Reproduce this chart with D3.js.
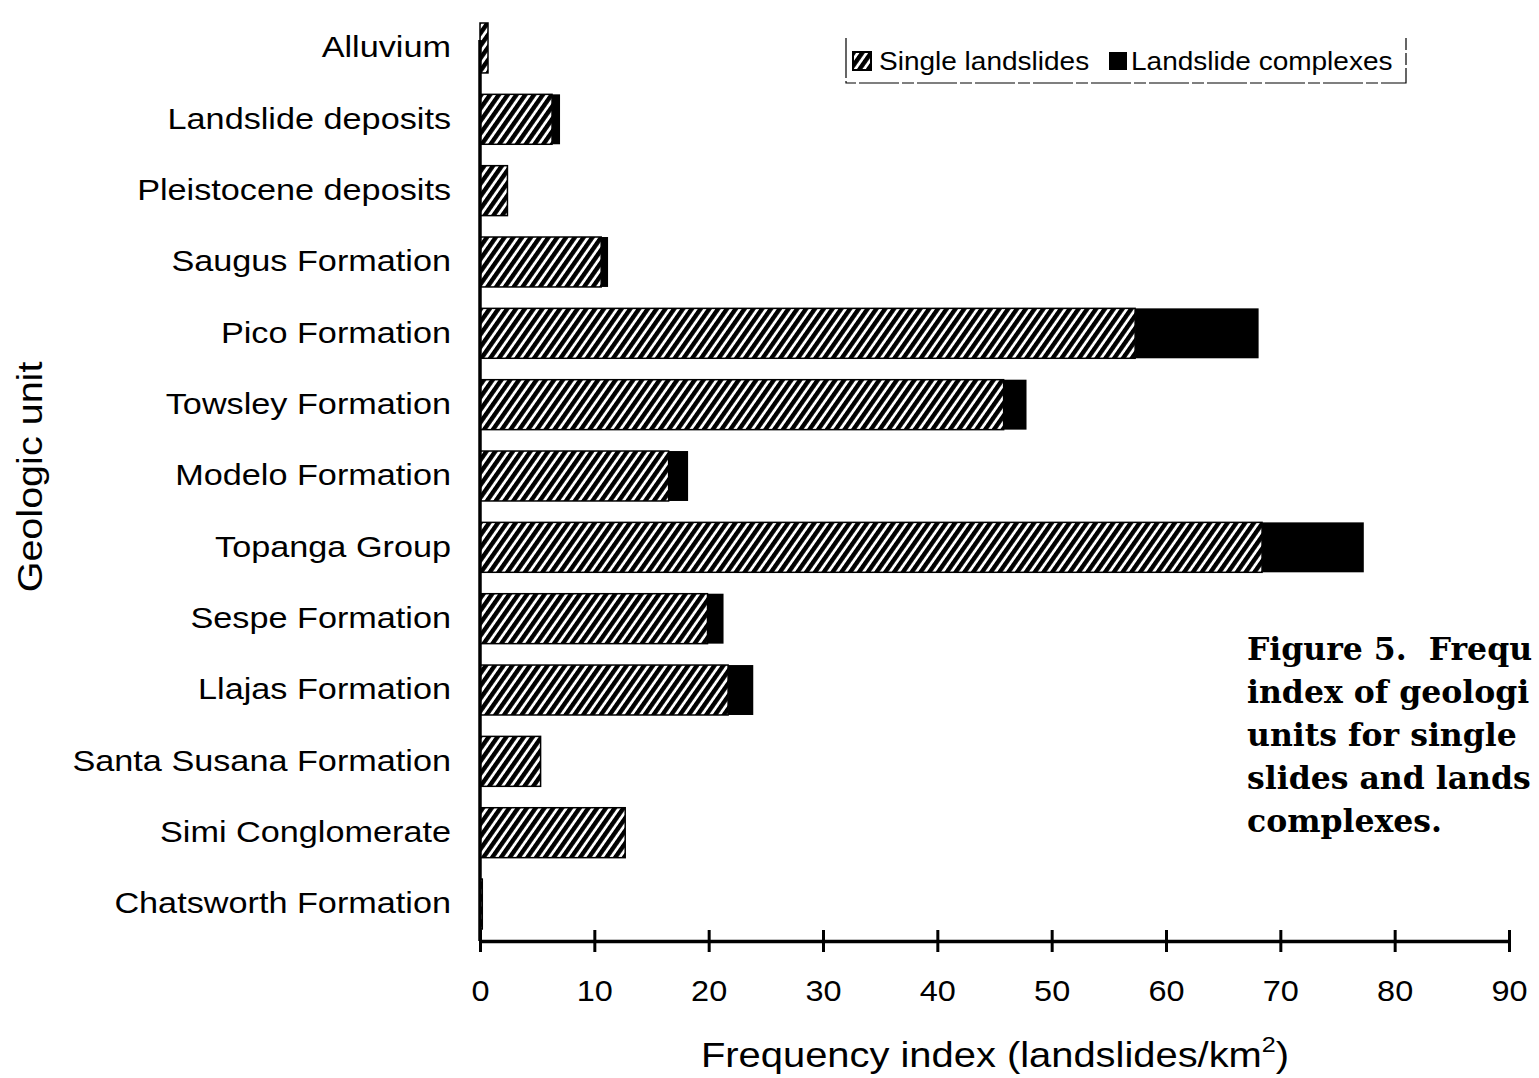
<!DOCTYPE html>
<html><head><meta charset="utf-8">
<script src="https://cdn.jsdelivr.net/npm/d3@7"></script>
<style>html,body{margin:0;padding:0;background:#fff;}svg{display:block;}</style>
</head><body>
<script>
const categories = ["Alluvium","Landslide deposits","Pleistocene deposits","Saugus Formation","Pico Formation","Towsley Formation","Modelo Formation","Topanga Group","Sespe Formation","Llajas Formation","Santa Susana Formation","Simi Conglomerate","Chatsworth Formation"];
const singleLandslides = [0.7, 6.3, 2.4, 10.6, 57.3, 45.8, 16.5, 68.4, 19.9, 21.7, 5.3, 12.7, 0.2];
const landslideComplexes = [0, 0.7, 0, 0.6, 10.8, 2.0, 1.7, 8.9, 1.4, 2.2, 0, 0, 0];
const xTicks = [0,10,20,30,40,50,60,70,80,90];
const seriesNames = ["Single landslides","Landslide complexes"];
const captionLines = ["Figure 5.  Frequ","index of geologi","units for single","slides and lands","complexes."];

const W = 1539, H = 1078;
const FONT = "Liberation Sans, Arial, sans-serif";
const svg = d3.select("body").append("svg").attr("width", W).attr("height", H);
const defs = svg.append("defs");
const pat = defs.append("pattern").attr("id","hatch").attr("patternUnits","userSpaceOnUse")
  .attr("width",7.2).attr("height",20).attr("patternTransform","rotate(35)");
pat.append("rect").attr("width",7.2).attr("height",20).attr("fill","#fff");
pat.append("rect").attr("x",0).attr("width",4.4).attr("height",20).attr("fill","#000");

function stretch(sel, f){
  sel.each(function(){
    const L = this.getComputedTextLength();
    d3.select(this).attr("textLength", L*f).attr("lengthAdjust","spacingAndGlyphs");
  });
}

const x = d3.scaleLinear().domain([0,90]).range([480,1509]);
const y = d3.scaleBand().domain(categories).range([12.3,939.7]).paddingInner(0.3).paddingOuter(0.15);

const data = categories.map((c,i)=>({c, s:singleLandslides[i], k:landslideComplexes[i]}));

// bars
svg.append("g").selectAll("rect").data(data).join("rect")
  .attr("x", x(0)).attr("y", d=>y(d.c)).attr("width", d=>x(d.s)-x(0)).attr("height", y.bandwidth())
  .attr("fill","url(#hatch)").attr("stroke","#000").attr("stroke-width",1.5);
svg.append("g").selectAll("rect").data(data.filter(d=>d.k>0)).join("rect")
  .attr("x", d=>x(d.s)).attr("y", d=>y(d.c)).attr("width", d=>x(d.s+d.k)-x(d.s)).attr("height", y.bandwidth())
  .attr("fill","#000");

// x axis
const xa = svg.append("g").attr("transform","translate(0,941)")
  .call(d3.axisBottom(x).tickValues(xTicks).tickSize(0).tickPadding(39).tickFormat(d3.format("d")));
xa.select(".domain").attr("stroke","#000").attr("stroke-width",3.5);
xa.selectAll(".tick line").remove();
xa.selectAll(".tick").append("line").attr("y1",-11).attr("y2",11).attr("stroke","#000").attr("stroke-width",3);
xa.selectAll("text").attr("font-family",FONT).attr("font-size",29.5).attr("fill","#000");
stretch(xa.selectAll("text"), 1.1);

// y axis
const ya = svg.append("g").attr("transform","translate(480,0)")
  .call(d3.axisLeft(y).tickSize(0).tickPadding(29));
ya.select(".domain").attr("d","M0,40V941").attr("stroke","#000").attr("stroke-width",3.5);
ya.selectAll("text").attr("font-family",FONT).attr("font-size",29).attr("fill","#000");
stretch(ya.selectAll("text"), 1.18);

// axis titles
const xt = svg.append("text").attr("transform","translate(995,1067) scale(1.14,1)").attr("text-anchor","middle")
  .attr("font-family",FONT).attr("font-size",35).attr("fill","#000");
xt.append("tspan").text("Frequency index (landslides/km");
xt.append("tspan").text("2").attr("font-size",22).attr("dy",-15);
xt.append("tspan").text(")").attr("dy",15);

svg.append("text").attr("transform","translate(42,477) rotate(-90) scale(1.13,1)").attr("text-anchor","middle")
  .attr("font-family",FONT).attr("font-size",35).attr("fill","#000").text("Geologic unit");

// legend
const lg = svg.append("g");
lg.append("path").attr("d","M846,38V83H1406V38").attr("fill","none").attr("stroke","#000").attr("stroke-width",1.2).attr("stroke-dasharray","40,3,12,3");
lg.append("rect").attr("x",853).attr("y",52).attr("width",18).attr("height",18).attr("fill","url(#hatch)").attr("stroke","#000").attr("stroke-width",2);
const lt1 = lg.append("text").attr("x",879).attr("y",70).attr("font-family",FONT).attr("font-size",25).attr("fill","#000").text(seriesNames[0]);
lg.append("rect").attr("x",1109).attr("y",52).attr("width",18).attr("height",18).attr("fill","#000");
const lt2 = lg.append("text").attr("x",1131).attr("y",70).attr("font-family",FONT).attr("font-size",25).attr("fill","#000").text(seriesNames[1]);
stretch(lt1, 1.12); stretch(lt2, 1.12);

// caption
svg.append("g").selectAll("text").data(captionLines).join("text")
  .attr("x",1247).attr("y",(d,i)=>660+i*43)
  .attr("font-family","DejaVu Serif, serif").attr("font-weight","bold").attr("font-size",31.5).attr("fill","#000")
  .attr("xml:space","preserve").style("white-space","pre")
  .text(d=>d);
</script>
</body></html>
